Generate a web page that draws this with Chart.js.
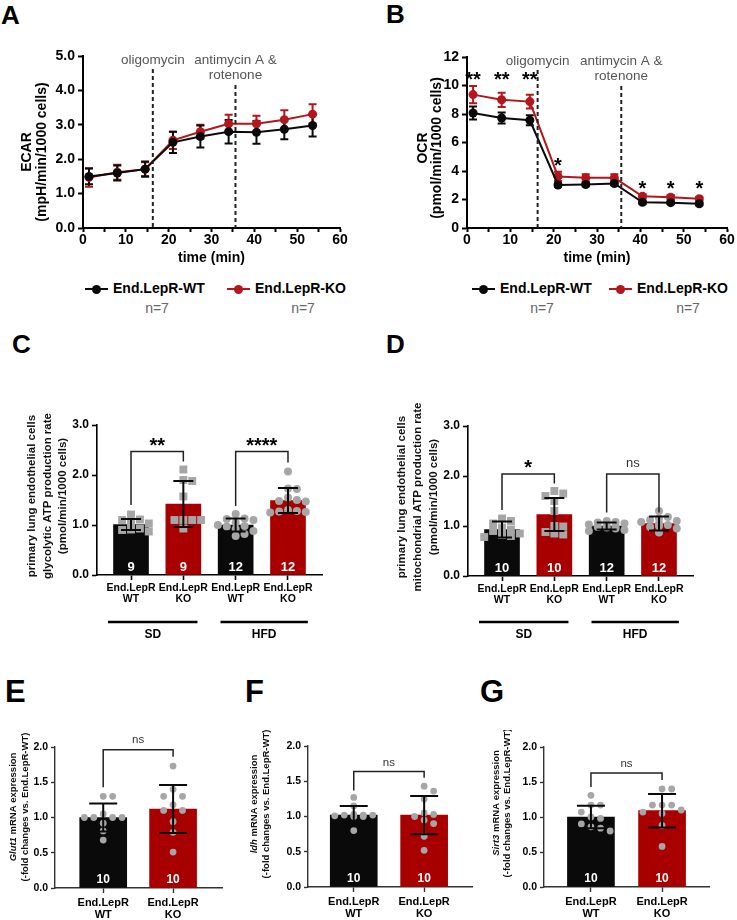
<!DOCTYPE html>
<html lang="en">
<head>
<meta charset="utf-8">
<title>End.LepR endothelial metabolism</title>
<script src="https://cdn.jsdelivr.net/npm/chart.js@4.4.1/dist/chart.umd.min.js"></script>
<style>
  html, body { margin: 0; padding: 0; background: #fff; }
  body { position: relative; width: 737px; height: 920px; overflow: hidden;
         font-family: Arial, "Liberation Sans", Helvetica, sans-serif; }
  canvas { position: absolute; }
  .tag { position: absolute; font-weight: bold; line-height: 1; color: #000; }
  .leg { position: absolute; font-size: 14px; font-weight: bold; line-height: 16px; white-space: nowrap; }
  .mk { display: inline-block; position: relative; width: 23px; height: 2px; background: #0a0a0a;
        vertical-align: middle; margin-right: 5px; }
  .mk::after { content: ''; position: absolute; left: 7px; top: -3.5px; width: 9px; height: 9px;
               border-radius: 50%; background: inherit; }
  .mk.ko { background: #b4161b; }
  .n { position: absolute; width: 60px; text-align: center; font-size: 14px; line-height: 16px; color: #666; }
</style>
</head>
<body>
<div class="tag" style="left:1px;top:2px;font-size:26px">A</div>
<div class="tag" style="left:386px;top:1px;font-size:26px">B</div>
<div class="tag" style="left:12px;top:331px;font-size:26px">C</div>
<div class="tag" style="left:386px;top:331px;font-size:26px">D</div>
<div class="tag" style="left:5px;top:676px;font-size:31px">E</div>
<div class="tag" style="left:245px;top:676px;font-size:31px">F</div>
<div class="tag" style="left:480px;top:676px;font-size:31px">G</div>

<div class="leg" style="left:85px;top:280px"><span class="mk"></span>End.LepR-WT</div>
<div class="leg" style="left:227px;top:280px"><span class="mk ko"></span>End.LepR-KO</div>
<div class="n" style="left:127px;top:300px">n=7</div>
<div class="n" style="left:273px;top:300px">n=7</div>

<div class="leg" style="left:472px;top:280px"><span class="mk"></span>End.LepR-WT</div>
<div class="leg" style="left:609px;top:280px"><span class="mk ko"></span>End.LepR-KO</div>
<div class="n" style="left:512px;top:300px">n=7</div>
<div class="n" style="left:658px;top:300px">n=7</div>

<script>
// ---- A / B: Seahorse run, mean ± SEM ----
const timeMin   = [1.4, 8.0, 14.5, 21.0, 27.4, 34.0, 40.5, 47.0, 53.6];
const ecarWT    = [1.50, 1.60, 1.71, 2.49, 2.66, 2.80, 2.78, 2.87, 2.98];
const ecarWTerr = [0.23, 0.22, 0.22, 0.31, 0.32, 0.34, 0.33, 0.29, 0.32];
const ecarKO    = [1.47, 1.62, 1.71, 2.55, 2.80, 3.03, 3.03, 3.15, 3.31];
const ecarKOerr = [0.27, 0.22, 0.20, 0.25, 0.20, 0.26, 0.23, 0.27, 0.29];
const ocrWT     = [8.07, 7.72, 7.56, 3.02, 3.05, 3.12, 1.80, 1.78, 1.70];
const ocrWTerr  = [0.45, 0.38, 0.35, 0.12, 0.12, 0.12, 0.12, 0.10, 0.10];
const ocrKO     = [9.36, 9.00, 8.87, 3.62, 3.52, 3.52, 2.22, 2.16, 2.06];
const ocrKOerr  = [0.60, 0.50, 0.48, 0.32, 0.25, 0.25, 0.15, 0.15, 0.12];
const ocrSig    = ['**', '**', '**', '*', '', '', '*', '*', '*'];
const injectionTimes  = [16.3, 35.6];
const injectionLabels = [['oligomycin'], ['antimycin A &', 'rotenone']];

// ---- C-G: bars = mean, whiskers = SD, dots = single mice ----
const genotypes = [['End.LepR', 'WT'], ['End.LepR', 'KO']];
const diets = ['SD', 'HFD'];

// C: glycolytic ATP production rate (SD WT, SD KO, HFD WT, HFD KO)
const glycoMean = [1.01, 1.42, 1.00, 1.49];
const glycoSD   = [0.11, 0.46, 0.13, 0.25];
const glycoN    = [9, 9, 12, 12];
const glycoPts  = [
  [1.21, 1.11, 1.10, 1.05, 1.03, 0.93, 0.91, 0.90, 0.87],
  [2.11, 1.90, 1.88, 1.57, 1.10, 1.10, 1.10, 1.10, 0.93],
  [1.22, 1.13, 1.12, 1.10, 1.05, 1.00, 0.98, 0.97, 0.92, 0.88, 0.82, 0.78],
  [2.07, 1.73, 1.72, 1.55, 1.50, 1.48, 1.47, 1.30, 1.28, 1.27, 1.26, 1.25]
];
const glycoSig     = ['**', '****'];
const glycoBracket = [[2.47, 1.40, 2.27], [2.47, 1.38, 2.25]]; // bar, left leg end, right leg end

// D: mitochondrial ATP production rate
const mitoMean = [0.93, 1.23, 1.00, 1.05];
const mitoSD   = [0.16, 0.33, 0.07, 0.14];
const mitoN    = [10, 10, 12, 12];
const mitoPts  = [
  [1.15, 1.10, 1.05, 0.97, 0.93, 0.90, 0.85, 0.82, 0.80, 0.78],
  [1.70, 1.65, 1.60, 1.50, 1.30, 1.00, 0.99, 0.88, 0.85, 0.83],
  [1.10, 1.08, 1.07, 1.05, 1.03, 1.02, 1.00, 0.98, 0.97, 0.95, 0.92, 0.90],
  [1.30, 1.18, 1.15, 1.12, 1.10, 1.08, 1.05, 1.02, 1.00, 0.98, 0.95, 0.87]
];
const mitoSig     = ['*', 'ns'];
const mitoBracket = [[2.04, 1.32, 1.85], [2.04, 1.27, 1.27]];

// E-G: qPCR, fold change vs End.LepR-WT
const qpcrN = [10, 10];
const glut1Mean = [1.00, 1.12];
const glut1SD   = [0.20, 0.34];
const glut1Pts  = [
  [1.30, 1.30, 1.05, 1.00, 1.00, 1.00, 1.00, 0.92, 0.81, 0.68],
  [1.73, 1.40, 1.30, 1.30, 1.18, 1.10, 1.10, 0.94, 0.79, 0.51]
];
const glut1Bracket = [[1.96, 1.43, 1.86]];
const ldhMean = [1.02, 1.02];
const ldhSD   = [0.13, 0.27];
const ldhPts  = [
  [1.27, 1.15, 1.03, 1.02, 1.02, 1.02, 1.01, 1.00, 1.00, 0.80],
  [1.43, 1.36, 1.25, 1.05, 1.03, 1.00, 0.95, 0.90, 0.72, 0.52]
];
const ldhBracket = [[1.64, 1.37, 1.55]];
const sirt3Mean = [1.00, 1.09];
const sirt3SD   = [0.16, 0.24];
const sirt3Pts  = [
  [1.31, 1.17, 1.17, 1.07, 1.00, 0.98, 0.90, 0.86, 0.84, 0.80],
  [1.40, 1.40, 1.17, 1.17, 1.17, 1.10, 1.07, 1.05, 0.88, 0.58]
];
const sirt3Bracket = [[1.63, 1.43, 1.53]];

// ---------------------------------------------------------------
const SANS = 'Arial, "Liberation Sans", Helvetica, sans-serif';
const BLACK = '#0a0a0a';
const RED_LINE = '#b4161b';
const RED_BAR = '#a80000';
const DOT = '#a6a6a6';

Chart.defaults.font.family = SANS;
Chart.defaults.color = '#000';
Chart.defaults.animation = false;
Chart.defaults.events = [];
Chart.defaults.plugins.legend.display = false;
Chart.defaults.plugins.tooltip.enabled = false;

// canvas at box (page px); chart area pinned to area (page px)
function place(box, area, config) {
  const c = document.createElement('canvas');
  c.width = box.w; c.height = box.h;
  c.style.left = box.x + 'px'; c.style.top = box.y + 'px';
  c.style.width = box.w + 'px'; c.style.height = box.h + 'px';
  document.body.appendChild(c);
  config.options.responsive = false;
  config.options.layout = { padding: { left: 0, bottom: 0, top: area.t - box.y, right: box.x + box.w - area.r } };
  config.options.scales.x.afterFit = s => { s.height = box.y + box.h - area.b; };
  config.options.scales.y.afterFit = s => { s.width = area.l - box.x; };
  return new Chart(c, config);
}

// rotated y title, lines may mix italic gene names with plain text
function yTitle(box, t) {
  return {
    id: 'yTitle',
    afterDraw(chart) {
      const ctx = chart.ctx;
      t.lines.forEach((line, i) => {
        const parts = typeof line === 'string' ? [[line, false]] : line;
        ctx.save();
        ctx.translate(t.xs[i] - box.x, t.cy - box.y);
        ctx.rotate(-Math.PI / 2);
        ctx.fillStyle = t.color || '#000';
        ctx.textBaseline = 'middle';
        ctx.textAlign = 'left';
        const fonts = parts.map(p => (p[1] ? 'italic ' : '') + 'bold ' + t.size + 'px ' + SANS);
        const widths = parts.map((p, k) => { ctx.font = fonts[k]; return ctx.measureText(p[0]).width; });
        let x = -widths.reduce((a, b) => a + b, 0) / 2;
        parts.forEach((p, k) => { ctx.font = fonts[k]; ctx.fillText(p[0], x, 0); x += widths[k]; });
        ctx.restore();
      });
    }
  };
}

function axisStyle(col, w, len) {
  return {
    offset: false,
    border: { display: true, color: col, width: w },
    grid: { display: true, offset: false, drawOnChartArea: false, drawTicks: true, tickLength: len, tickWidth: w, tickColor: col, color: col }
  };
}

// ---------------- line panels (A, B) ----------------
function linePanel(s) {
  const series = (vals, color) => ({
    data: timeMin.map((t, i) => ({ x: t, y: vals[i] })),
    showLine: true, borderColor: color, borderWidth: 2,
    pointRadius: 4.5, pointBackgroundColor: color, pointBorderWidth: 0
  });

  const errBars = {
    id: 'errBars',
    beforeDatasetsDraw(chart) {
      const { ctx, scales: { x, y } } = chart;
      [[s.ko, s.koErr, RED_LINE], [s.wt, s.wtErr, BLACK]].forEach(([vals, err, color]) => {
        ctx.save();
        ctx.strokeStyle = color; ctx.lineWidth = 2;
        ctx.beginPath();
        vals.forEach((v, i) => {
          const px = x.getPixelForValue(timeMin[i]);
          const hi = y.getPixelForValue(v + err[i]);
          const lo = y.getPixelForValue(v - err[i]);
          ctx.moveTo(px, hi); ctx.lineTo(px, lo);
          ctx.moveTo(px - 4, hi); ctx.lineTo(px + 4, hi);
          ctx.moveTo(px - 4, lo); ctx.lineTo(px + 4, lo);
        });
        ctx.stroke();
        ctx.restore();
      });
    }
  };

  const injections = {
    id: 'injections',
    afterDatasetsDraw(chart) {
      const { ctx, chartArea, scales: { x, y } } = chart;
      injectionTimes.forEach((t, k) => {
        const px = x.getPixelForValue(t);
        ctx.save();
        ctx.strokeStyle = '#222'; ctx.lineWidth = 2; ctx.setLineDash([4, 3]);
        ctx.beginPath();
        ctx.moveTo(px, chartArea.top + (k ? 29 : 13));
        ctx.lineTo(px, chartArea.bottom);
        ctx.stroke();
        ctx.fillStyle = '#555'; ctx.font = '13.5px ' + SANS;
        ctx.textAlign = 'center'; ctx.textBaseline = 'middle';
        injectionLabels[k].forEach((txt, j) => ctx.fillText(txt, px, chartArea.top + 4 + j * 15));
        ctx.restore();
      });
      if (!s.sig) return;
      // significance marks: same height over each run of equal marks
      ctx.save();
      ctx.fillStyle = '#000'; ctx.font = 'bold 20px ' + SANS;
      ctx.textAlign = 'center'; ctx.textBaseline = 'alphabetic';
      let i = 0;
      while (i < s.sig.length) {
        let j = i;
        while (j + 1 < s.sig.length && s.sig[j + 1] === s.sig[i]) j++;
        if (s.sig[i]) {
          let top = Infinity;
          for (let k = i; k <= j; k++) top = Math.min(top, y.getPixelForValue(s.ko[k] + s.koErr[k]));
          for (let k = i; k <= j; k++) ctx.fillText(s.sig[k], x.getPixelForValue(timeMin[k]), top - 11 + 0.57 * 20);
        }
        i = j + 1;
      }
      ctx.restore();
    }
  };

  const tickFont = { size: 14, weight: 'bold' };
  place(s.box, s.area, {
    type: 'scatter',
    data: { datasets: [series(s.wt, BLACK), series(s.ko, RED_LINE)] },
    options: {
      scales: {
        x: Object.assign(axisStyle('#000', 2, 4), {
          type: 'linear', min: 0, max: 60,
          afterBuildTicks: sc => { sc.ticks = [0, 5, 10, 15, 20, 25, 30, 35, 40, 45, 50, 55, 60].map(v => ({ value: v })); },
          ticks: { autoSkip: false, maxRotation: 0, padding: 0, font: tickFont, callback: v => (v % 10 === 0 ? v : '') },
          title: { display: true, text: 'time (min)', font: { size: 14, weight: 'bold', lineHeight: 1.1 }, padding: { top: 0, bottom: 9 } }
        }),
        y: Object.assign(axisStyle('#000', 2, 5), {
          type: 'linear', min: 0, max: s.yMax,
          ticks: { stepSize: s.yStep, padding: 3, font: tickFont, callback: s.yFmt }
        })
      }
    },
    plugins: [errBars, injections, yTitle(s.box, { lines: s.title, xs: s.titleX, cy: s.titleY, size: 14 })]
  });
}

// ---------------- bar panels (C-G) ----------------
// spread single values sideways inside the bar; when every slot is taken the
// dot goes to the least crowded one, as in the original scatter
function swarm(values, center, step, tol, kMax) {
  const slots = [0];
  for (let k = 1; k <= kMax; k++) slots.push(k, -k);
  const placed = [];
  values.slice().sort((a, b) => b - a).forEach(v => {
    let best = center, bestHits = Infinity;
    slots.forEach(k => {
      const x = center + k * step;
      const hits = placed.filter(p => Math.abs(p.x - x) < step * 0.95 && Math.abs(p.y - v) < tol).length;
      if (hits < bestHits) { best = x; bestHits = hits; }
    });
    placed.push({ x: best, y: v });
  });
  return placed;
}

function barPanel(s) {
  const ink = s.ink;
  const datasets = [{
    type: 'bar', order: 2,
    data: s.means.map((m, i) => ({ x: i, y: m })),
    backgroundColor: s.means.map((_, i) => (i % 2 ? RED_BAR : BLACK)),
    barThickness: s.barW, borderWidth: 0
  }];
  s.points.forEach((vals, i) => datasets.push({
    type: 'scatter', order: 1,
    data: swarm(vals, i, s.step, s.tol, 2),
    pointStyle: s.shapes[i],
    pointRadius: s.shapes[i] === 'rect' ? s.dot * 1.4 : s.dot,
    pointBackgroundColor: DOT, pointBorderWidth: 0
  }));

  const overlay = {
    id: 'overlay',
    afterDatasetsDraw(chart) {
      const { ctx, chartArea, scales: { x, y } } = chart;
      ctx.save();
      // SD whiskers
      ctx.strokeStyle = BLACK; ctx.lineWidth = 2;
      ctx.beginPath();
      s.means.forEach((m, i) => {
        const px = x.getPixelForValue(i);
        const hi = y.getPixelForValue(m + s.sds[i]);
        const lo = y.getPixelForValue(m - s.sds[i]);
        ctx.moveTo(px, hi); ctx.lineTo(px, lo);
        ctx.moveTo(px - s.cap, hi); ctx.lineTo(px + s.cap, hi);
        ctx.moveTo(px - s.cap, lo); ctx.lineTo(px + s.cap, lo);
      });
      ctx.stroke();
      // animals per bar
      ctx.fillStyle = '#fff'; ctx.font = 'bold ' + s.nFont + 'px ' + SANS;
      ctx.textAlign = 'center'; ctx.textBaseline = 'middle';
      s.ns.forEach((k, i) => ctx.fillText(String(k), x.getPixelForValue(i), chartArea.bottom - 8));
      // comparison brackets
      s.bracket.forEach((b, k) => {
        const xa = x.getPixelForValue(2 * k), xb = x.getPixelForValue(2 * k + 1);
        const yb = y.getPixelForValue(b[0]);
        ctx.strokeStyle = '#222'; ctx.lineWidth = 1.5;
        ctx.beginPath();
        ctx.moveTo(xa, y.getPixelForValue(b[1]));
        ctx.lineTo(xa, yb); ctx.lineTo(xb, yb);
        ctx.lineTo(xb, y.getPixelForValue(b[2]));
        ctx.stroke();
        const label = s.sig[k], cx = (xa + xb) / 2;
        if (label === 'ns') {
          ctx.fillStyle = '#333'; ctx.font = s.nsFont + 'px ' + SANS; ctx.textBaseline = 'middle';
          ctx.fillText(label, cx, yb - s.sigGap);
        } else {
          ctx.fillStyle = '#000'; ctx.font = 'bold ' + s.starFont + 'px ' + SANS; ctx.textBaseline = 'alphabetic';
          ctx.fillText(label, cx, yb - s.sigGap + 0.57 * s.starFont);
        }
      });
      ctx.restore();
    },
    afterDraw(chart) {
      if (!s.groups) return;
      const { ctx, scales: { x } } = chart;
      ctx.save();
      ctx.strokeStyle = '#000'; ctx.lineWidth = 2.5;
      ctx.fillStyle = '#000'; ctx.font = 'bold 12px ' + SANS;
      ctx.textAlign = 'center'; ctx.textBaseline = 'middle';
      s.groups.forEach((g, k) => {
        const a = x.getPixelForValue(g[0]), b = x.getPixelForValue(g[1]);
        ctx.beginPath();
        ctx.moveTo(a, s.groupY - s.box.y); ctx.lineTo(b, s.groupY - s.box.y);
        ctx.stroke();
        ctx.fillText(diets[k], (a + b) / 2, s.dietY - s.box.y);
      });
      ctx.restore();
    }
  };

  place(s.box, s.area, {
    type: 'scatter',
    data: { datasets },
    options: {
      scales: {
        x: Object.assign(axisStyle(ink, s.axisW, 5), {
          type: 'linear', min: s.xMin, max: s.xMax,
          afterBuildTicks: sc => { sc.ticks = s.means.map((_, i) => ({ value: i })); },
          ticks: {
            autoSkip: false, maxRotation: 0, minRotation: 0, padding: s.xPad, color: '#000',
            font: { size: s.xFont, weight: 'bold', lineHeight: 1.1 },
            callback: v => genotypes[v % 2]
          }
        }),
        y: Object.assign(axisStyle(ink, s.axisW, s.yTick), {
          type: 'linear', min: 0, max: s.yMax,
          ticks: { stepSize: s.yStep, padding: 3, color: '#000', font: { size: s.yFont, weight: 'bold' }, callback: v => v.toFixed(1) }
        })
      }
    },
    plugins: [overlay, yTitle(s.box, { lines: s.title, xs: s.titleX, cy: s.titleY, size: s.titleSize, color: '#111' })]
  });
}

// ---------------- build ----------------
linePanel({
  box: { x: 0, y: 40, w: 365, h: 235 }, area: { l: 83, t: 56, r: 340, b: 228 },
  wt: ecarWT, wtErr: ecarWTerr, ko: ecarKO, koErr: ecarKOerr,
  yMax: 5, yStep: 1, yFmt: v => v.toFixed(1),
  title: ['ECAR', '(mpH/min/1000 cells)'], titleX: [27, 42], titleY: 152
});

linePanel({
  box: { x: 370, y: 40, w: 367, h: 235 }, area: { l: 467, t: 57, r: 727, b: 228 },
  wt: ocrWT, wtErr: ocrWTerr, ko: ocrKO, koErr: ocrKOerr, sig: ocrSig,
  yMax: 12, yStep: 2, yFmt: v => v,
  title: ['OCR', '(pmol/min/1000 cells)'], titleX: [423, 437], titleY: 148
});

const seahorseBars = {
  xMin: -0.65, xMax: 3.65, yMax: 3, yStep: 1, barW: 35, dot: 4, step: 0.17, tol: 0.13, cap: 10,
  shapes: ['rect', 'rect', 'circle', 'circle'], groups: [[-0.44, 1.27], [1.71, 3.38]],
  ink: '#000', axisW: 1.6, yTick: 5, yFont: 12, xFont: 10.5, xPad: 2, nFont: 13, nsFont: 13, starFont: 20, sigGap: 11,
  titleSize: 11.5, groupY: 622, dietY: 635
};

barPanel(Object.assign({}, seahorseBars, {
  box: { x: 0, y: 400, w: 340, h: 245 }, area: { l: 97, t: 425, r: 322, b: 575 },
  means: glycoMean, sds: glycoSD, ns: glycoN, points: glycoPts, sig: glycoSig, bracket: glycoBracket,
  title: ['primary lung endothelial cells', 'glycolytic ATP production rate', '(pmol/min/1000 cells)'],
  titleX: [32, 47.5, 63], titleY: 496
}));

barPanel(Object.assign({}, seahorseBars, {
  box: { x: 370, y: 400, w: 367, h: 245 }, area: { l: 468, t: 426, r: 693, b: 576 },
  means: mitoMean, sds: mitoSD, ns: mitoN, points: mitoPts, sig: mitoSig, bracket: mitoBracket,
  title: ['primary lung endothelial cells', 'mitochondrial ATP production rate', '(pmol/min/1000 cells)'],
  titleX: [402, 418, 434], titleY: 497
}));

const qpcrBars = {
  yMax: 2, yStep: 0.5, barW: 47, dot: 3.4, step: 0.135, tol: 0.1, cap: 14,
  shapes: ['circle', 'circle'], ns: qpcrN, sig: ['ns'],
  ink: '#333', axisW: 1.4, yTick: 4, yFont: 10.5, xFont: 11, xPad: 4, nFont: 12, nsFont: 11.5, starFont: 18, sigGap: 10,
  titleSize: 9.5
};

barPanel(Object.assign({}, qpcrBars, {
  box: { x: 0, y: 730, w: 235, h: 190 }, area: { l: 55, t: 747, r: 222, b: 888 },
  xMin: -0.69, xMax: 1.7,
  means: glut1Mean, sds: glut1SD, points: glut1Pts, bracket: glut1Bracket,
  title: [[['Glut1', true], [' mRNA expression', false]], '(-fold changes vs. End.LepR-WT)'],
  titleX: [13, 25], titleY: 807
}));

barPanel(Object.assign({}, qpcrBars, {
  box: { x: 240, y: 730, w: 245, h: 190 }, area: { l: 308, t: 746, r: 472, b: 887 },
  xMin: -0.65, xMax: 1.68, sigGap: 9,
  means: ldhMean, sds: ldhSD, points: ldhPts, bracket: ldhBracket,
  title: [[['ldh', true], [' mRNA expression', false]], '(-fold changes vs. End.LepR-WT)'],
  titleX: [254, 266], titleY: 804
}));

barPanel(Object.assign({}, qpcrBars, {
  box: { x: 487, y: 730, w: 250, h: 190 }, area: { l: 544, t: 747, r: 709, b: 887 },
  xMin: -0.66, xMax: 1.66, sigGap: 9,
  means: sirt3Mean, sds: sirt3SD, points: sirt3Pts, bracket: sirt3Bracket,
  title: [[['Sirt3', true], [' mRNA expression', false]], '(-fold changes vs. End.LepR-WT)'],
  titleX: [496, 507], titleY: 803
}));
</script>
</body>
</html>
